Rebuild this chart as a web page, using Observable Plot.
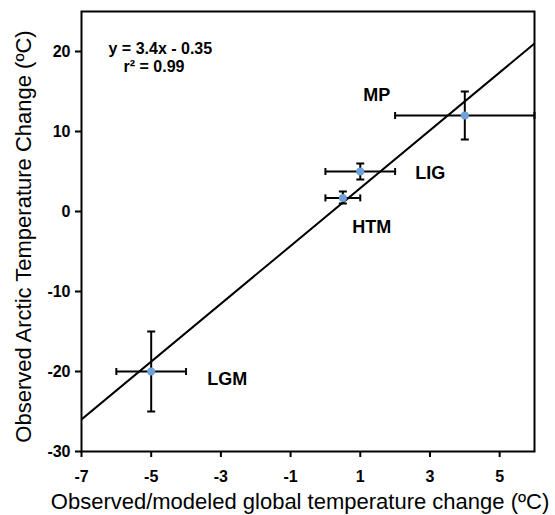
<!DOCTYPE html>
<html>
<head>
<meta charset="utf-8">
<script src="https://cdn.jsdelivr.net/npm/d3@7"></script>
<script src="https://cdn.jsdelivr.net/npm/@observablehq/plot@0.6"></script>
<style>
  html, body { margin: 0; padding: 0; background: white; }
  #chart { width: 555px; height: 515px; }
</style>
</head>
<body>
<div id="chart"></div>
<script>
// ---- data ----
const periods = ["LGM", "HTM", "LIG", "MP"];
const globalChange = [-5, 0.5, 1, 4];
const arcticChange = [-20, 1.7, 5, 12];
const globalLow = [-6, 0, 0, 2];
const globalHigh = [-4, 1, 2, 6];
const arcticLow = [-25, 1, 4, 9];
const arcticHigh = [-15, 2.5, 6, 15];
const fitX = [-7, 6];
const fitY = [-26, 21];
const xTicks = [-7, -5, -3, -1, 1, 3, 5];
const yTicks = [-30, -20, -10, 0, 10, 20];
const equationText = "y = 3.4x - 0.35";
const r2Text = "r\u00B2 = 0.99";
const xTitle = "Observed/modeled global temperature change (\u00BAC)";
const yTitle = "Observed Arctic Temperature Change (\u00BAC)";

// ---- tables built from the arrays ----
const points = periods.map((p, i) => ({
  period: p, x: globalChange[i], y: arcticChange[i],
  xLo: globalLow[i], xHi: globalHigh[i], yLo: arcticLow[i], yHi: arcticHigh[i]
}));
const fit = fitX.map((x, i) => ({x, y: fitY[i]}));

// custom cap symbols for error bars
const capVertical = {draw(ctx, size) { const r = Math.sqrt(size / Math.PI); ctx.moveTo(0, -r); ctx.lineTo(0, r); }};
const capHorizontal = {draw(ctx, size) { const r = Math.sqrt(size / Math.PI); ctx.moveTo(-r, 0); ctx.lineTo(r, 0); }};

const labelOffsets = {MP: [-88, -20], LIG: [70, 2], HTM: [29, 29], LGM: [76, 8]};

const labelMarks = periods.map(p => Plot.text(points.filter(d => d.period === p), {
  x: "x", y: "y", text: "period",
  dx: labelOffsets[p][0], dy: labelOffsets[p][1],
  fontSize: 18, fontWeight: "bold", fill: "black", textAnchor: "middle", lineAnchor: "middle"
}));

const chart = Plot.plot({
  width: 555,
  height: 515,
  marginLeft: 81,
  marginRight: 21,
  marginTop: 11,
  marginBottom: 64,
  x: {domain: [-7, 6]},
  y: {domain: [-30, 25]},
  style: {
    fontFamily: "'Liberation Sans', Arial, Helvetica, sans-serif",
    fontSize: "16px",
    fontWeight: "bold",
    color: "black",
    background: "white"
  },
  marks: [
    Plot.axisX(xTicks, {tickSize: 6, tickPadding: 13, tickFormat: d => String(d), strokeWidth: 2, label: null, fontSize: 16}),
    Plot.axisY(yTicks, {tickSize: 6, tickPadding: 5, tickFormat: d => String(d), strokeWidth: 2, label: null, fontSize: 16}),
    Plot.line(fit, {x: "x", y: "y", stroke: "black", strokeWidth: 2, clip: true}),
    // horizontal error bars
    Plot.ruleY(points, {y: "y", x1: "xLo", x2: "xHi", stroke: "black", strokeWidth: 2, clip: true}),
    Plot.dot(points, {x: "xLo", y: "y", r: 3.5, symbol: capVertical, stroke: "black", strokeWidth: 2, fill: "none"}),
    Plot.dot(points, {x: "xHi", y: "y", r: 3.5, symbol: capVertical, stroke: "black", strokeWidth: 2, fill: "none"}),
    // vertical error bars
    Plot.ruleX(points, {x: "x", y1: "yLo", y2: "yHi", stroke: "black", strokeWidth: 2}),
    Plot.dot(points, {x: "x", y: "yLo", r: 4, symbol: capHorizontal, stroke: "black", strokeWidth: 2, fill: "none"}),
    Plot.dot(points, {x: "x", y: "yHi", r: 4, symbol: capHorizontal, stroke: "black", strokeWidth: 2, fill: "none"}),
    // points
    Plot.dot(points, {x: "x", y: "y", r: 4, fill: "#6fa1da", stroke: "none"}),
    ...labelMarks,
    // equation
    Plot.text([equationText], {frameAnchor: "top-left", text: d => d, dx: 27, dy: 37, textAnchor: "start", lineAnchor: "middle", fontSize: 16, fontWeight: "bold", fill: "black"}),
    Plot.text([r2Text], {frameAnchor: "top-left", text: d => d, dx: 42, dy: 55, textAnchor: "start", lineAnchor: "middle", fontSize: 16, fontWeight: "bold", fill: "black"}),
    // axis titles
    Plot.text([xTitle], {frameAnchor: "bottom", text: d => d, dx: -8, dy: 50, textAnchor: "middle", lineAnchor: "middle", fontSize: 22, fontWeight: "normal", fill: "black"}),
    Plot.text([yTitle], {frameAnchor: "left", text: d => d, dx: -58, dy: 5, rotate: -90, textAnchor: "middle", lineAnchor: "middle", fontSize: 22, fontWeight: "normal", fill: "black"}),
    Plot.frame({stroke: "black", strokeWidth: 2})
  ]
});
document.getElementById("chart").appendChild(chart);
</script>
</body>
</html>
